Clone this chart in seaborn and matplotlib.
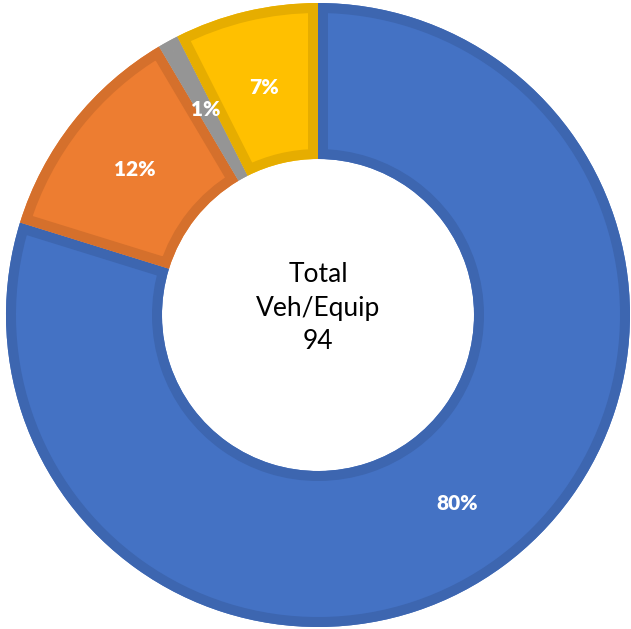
import matplotlib
matplotlib.use("Agg")
import matplotlib.pyplot as plt
from matplotlib.patches import Wedge
import seaborn as sns

# ─── Data ───────────────────────────────────────────────────────────────────
CATEGORIES = ["Type A", "Type B", "Type C", "Type D"]
COUNTS = [75, 11, 1, 7]
FILL_COLORS = ["#4472C4", "#ED7D31", "#A5A5A5", "#FFC000"]
EDGE_COLORS = ["#3D66B0", "#D5702C", "#959595", "#E6AD00"]
CENTER_TEXT = "Total\nVeh/Equip\n" + str(sum(COUNTS))

sns.set_style("white")
plt.rcParams["font.family"] = ["Lato", "DejaVu Sans"]

fig = plt.figure(figsize=(6.31, 6.29), dpi=100)
ax = fig.add_axes([0, 0, 1, 1])

wedges, texts, autotexts = ax.pie(
    COUNTS, colors=FILL_COLORS, startangle=90, counterclock=False,
    radius=1.0, autopct="%1.0f%%", pctdistance=0.75,
    wedgeprops=dict(width=0.5, linewidth=0),
    textprops=dict(color="white", fontsize=15, fontweight="heavy"),
)

# inner borders in a darker shade: stroke each wedge, clipped to itself
for w, ec in zip(wedges, EDGE_COLORS):
    border = Wedge(w.center, w.r, w.theta1, w.theta2, width=w.width,
                   facecolor="none", edgecolor=ec, linewidth=14.4, zorder=w.get_zorder() + 0.1)
    ax.add_patch(border)
    border.set_clip_path(w.get_path(), w.get_transform())

ax.text(0, 0.022, CENTER_TEXT, ha="center", va="center", fontsize=19,
        color="black", linespacing=1.42)

R = 312
ax.set_xlim(-318 / R, (631 - 318) / R)
ax.set_ylim(-314 / R, 315 / R)
ax.set_aspect("equal")
ax.axis("off")

plt.savefig("out.png", dpi=100)
plt.close()
